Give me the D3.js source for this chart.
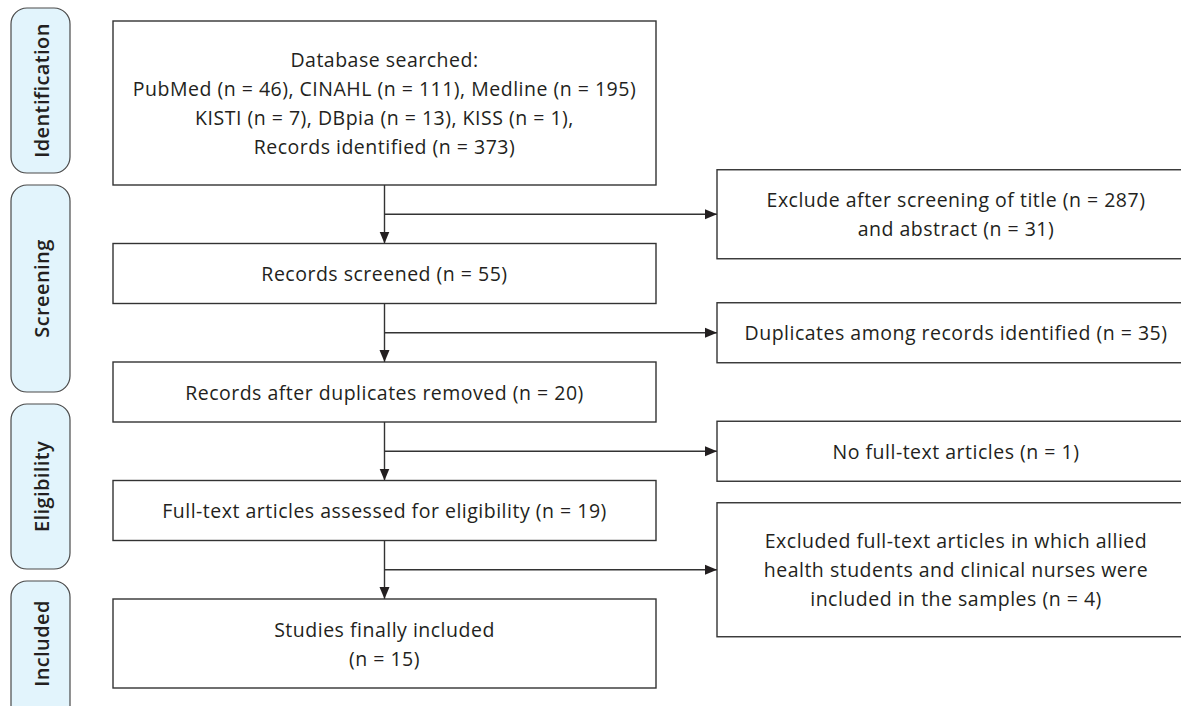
<!DOCTYPE html>
<html>
<head>
<meta charset="utf-8">
<script src="https://cdn.jsdelivr.net/npm/d3@7"></script>
<style>
  body { margin: 0; background: #fff; }
  svg text { font-family: "Open Sans", "Noto Sans", sans-serif; fill: #231f20; }
</style>
</head>
<body>
<div id="graphic"></div>
<script>
// stage labels on the left
var stages = ["Identification", "Screening", "Eligibility", "Included"];

// main column boxes (lines of text)
var mainSteps = [
  ["Database searched:", "PubMed (n = 46), CINAHL (n = 111), Medline (n = 195)", "KISTI (n = 7), DBpia (n = 13), KISS (n = 1),", "Records identified (n = 373)"],
  ["Records screened (n = 55)"],
  ["Records after duplicates removed (n = 20)"],
  ["Full-text articles assessed for eligibility (n = 19)"],
  ["Studies finally included", "(n = 15)"]
];

// exclusion boxes on the right
var exclusions = [
  ["Exclude after screening of title (n = 287)", "and abstract (n = 31)"],
  ["Duplicates among records identified (n = 35)"],
  ["No full-text articles (n = 1)"],
  ["Excluded full-text articles in which allied", "health students and clinical nurses were", "included in the samples (n = 4)"]
];

// layout settings
var W = 1181, H = 706;
var lineH = 29;
var mainX = [113, 656], sideX = [717, 1195];
var mainTop = 21, gap = 58.5;
var mainPad = [17, 0, 0, 0, 0];   // extra height per box
var sidePad = [0, 0, 0, 16];
var pillX = [11, 70], pillTop = 8, pillGap = 12;
var pillH = [165, 207, 165, 160];

var svg = d3.select("#graphic").append("svg")
  .attr("width", W).attr("height", H);

svg.append("defs").append("marker")
  .attr("id", "arrow")
  .attr("viewBox", "0 0 12 12")
  .attr("refX", 12).attr("refY", 6)
  .attr("markerWidth", 12).attr("markerHeight", 12)
  .attr("markerUnits", "userSpaceOnUse")
  .attr("orient", "auto")
  .append("path")
  .attr("d", "M0,1 L12,6 L0,11 Z")
  .attr("fill", "#231f20");

// work out box positions
var boxH = d => 60 + (d.length - 1) * lineH;
var mains = [];
var y = mainTop;
mainSteps.forEach(function(lines, i) {
  var h = boxH(lines) + mainPad[i];
  mains.push({lines: lines, y0: y, y1: y + h});
  y += h + gap;
});

var branches = exclusions.map(function(lines, i) {
  var by = (mains[i].y1 + mains[i + 1].y0) / 2;
  var h = boxH(lines) + sidePad[i];
  return {lines: lines, by: by, y0: by - h / 2, y1: by + h / 2};
});

var pills = [];
var py = pillTop;
stages.forEach(function(s, i) {
  pills.push({label: s, y0: py, y1: py + pillH[i]});
  py += pillH[i] + pillGap;
});

// stage pills
var pg = svg.selectAll("g.pill").data(pills).join("g").attr("class", "pill");
pg.append("rect")
  .attr("x", pillX[0]).attr("y", d => d.y0)
  .attr("width", pillX[1] - pillX[0]).attr("height", d => d.y1 - d.y0)
  .attr("rx", 16).attr("ry", 16)
  .attr("fill", "#e2f4fc").attr("stroke", "#4a4a4a").attr("stroke-width", 1.2);
pg.append("text")
  .attr("transform", d => "translate(" + ((pillX[0] + pillX[1]) / 2 + 1) + "," + ((d.y0 + Math.min(d.y1, H)) / 2) + ") rotate(-90)")
  .attr("text-anchor", "middle").attr("dominant-baseline", "central")
  .attr("font-size", 20).attr("font-weight", 600).attr("letter-spacing", 0.4)
  .text(d => d.label);

// connectors
var cx = (mainX[0] + mainX[1]) / 2;
var lineStyle = sel => sel.attr("stroke", "#333").attr("stroke-width", 1.4).attr("fill", "none");

mains.slice(0, -1).forEach(function(m, i) {
  svg.append("line")
    .attr("x1", cx).attr("y1", m.y1).attr("x2", cx).attr("y2", mains[i + 1].y0)
    .call(lineStyle).attr("marker-end", "url(#arrow)");
});
svg.selectAll("line.branch").data(branches).join("line")
  .attr("class", "branch")
  .attr("x1", cx).attr("y1", d => d.by).attr("x2", sideX[0]).attr("y2", d => d.by)
  .call(lineStyle).attr("marker-end", "url(#arrow)");

// boxes with text
function drawBox(sel, x) {
  sel.append("rect")
    .attr("x", x[0]).attr("y", d => d.y0)
    .attr("width", x[1] - x[0]).attr("height", d => d.y1 - d.y0)
    .attr("fill", "#fff").call(lineStyle);
  sel.each(function(d) {
    var mid = (d.y0 + d.y1) / 2;
    var first = mid - (d.lines.length - 1) * lineH / 2;
    d3.select(this).selectAll("text").data(d.lines).join("text")
      .attr("x", (x[0] + x[1]) / 2)
      .attr("y", (t, j) => first + j * lineH)
      .attr("text-anchor", "middle").attr("dominant-baseline", "central")
      .attr("font-size", 19.5).attr("letter-spacing", 0.5)
      .text(t => t);
  });
}
svg.selectAll("g.main").data(mains).join("g").attr("class", "main").call(drawBox, mainX);
svg.selectAll("g.side").data(branches).join("g").attr("class", "side").call(drawBox, sideX);
</script>
</body>
</html>
